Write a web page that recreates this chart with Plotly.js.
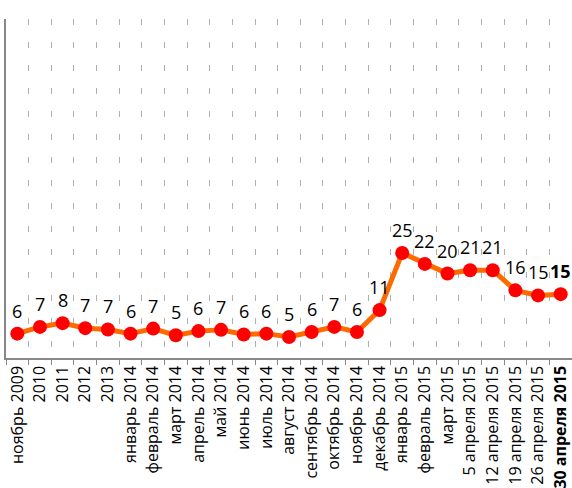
<!DOCTYPE html>
<html>
<head>
<meta charset="utf-8">
<script src="https://cdn.plot.ly/plotly-3.0.1.min.js"></script>
<style>html,body{margin:0;padding:0;background:#fff;}#chart{width:572px;height:488px;}</style>
</head>
<body>
<div id="chart"></div>
<script>
var categories = ["ноябрь 2009","2010","2011","2012","2013","январь 2014","февраль 2014","март 2014","апрель 2014","май 2014","июнь 2014","июль 2014","август 2014","сентябрь 2014","октябрь 2014","ноябрь 2014","декабрь 2014","январь 2015","февраль 2015","март 2015","5 апреля 2015","12 апреля 2015","19 апреля 2015","26 апреля 2015","30 апреля 2015"];
var values = [5.8,7.4,8.3,7.1,6.8,5.8,7.0,5.4,6.4,6.7,5.6,5.8,5.0,6.2,7.4,6.2,11.4,25.0,22.4,20.1,20.9,20.9,16.1,14.9,15.2];
var labels = ["6","7","8","7","7","6","7","5","6","7","6","6","5","6","7","6","11","25","22","20","21","21","16","15","15"];
var tickTexts = categories.map(function(c, i){ return i === categories.length - 1 ? "<b>" + c + "</b>" : c; });

var annotations = values.map(function(v, i){
  return {
    x: i, y: v, xref: "x", yref: "y",
    text: i === values.length - 1 ? "<b>" + labels[i] + "</b>" : labels[i],
    showarrow: false, yshift: 23,
    font: {family: "Open Sans", size: 18, color: "#000"}
  };
});

var trace = {
  x: categories, y: values, type: "scatter", mode: "lines+markers",
  line: {color: "#ff6a00", width: 5},
  marker: {color: "#ff0000", size: 14},
  hoverinfo: "skip"
};

var layout = {
  width: 572, height: 488,
  margin: {l: 6, r: 0, t: 19, b: 130},
  paper_bgcolor: "#fff", plot_bgcolor: "#fff",
  showlegend: false,
  font: {family: "Open Sans", size: 16, color: "#000"},
  xaxis: {
    type: "category",
    tickson: "boundaries",
    tickmode: "array", tickvals: categories, ticktext: tickTexts,
    tickangle: -90,
    ticks: "outside", ticklen: 5, tickcolor: "#888", tickwidth: 1,
    showline: true, linecolor: "#888", linewidth: 1.5,
    showgrid: true, gridcolor: "#b0b0b0", gridwidth: 1, griddash: "6px,17px",
    range: [-0.5, categories.length - 0.5],
    tickfont: {family: "Open Sans", size: 16, color: "#000"},
    zeroline: false
  },
  yaxis: {
    range: [0, 80.7],
    showline: true, linecolor: "#888", linewidth: 2,
    showgrid: false, zeroline: false, showticklabels: false, ticks: ""
  },
  annotations: annotations
};

Plotly.newPlot("chart", [trace], layout, {displayModeBar: false, staticPlot: true});
</script>
</body>
</html>
